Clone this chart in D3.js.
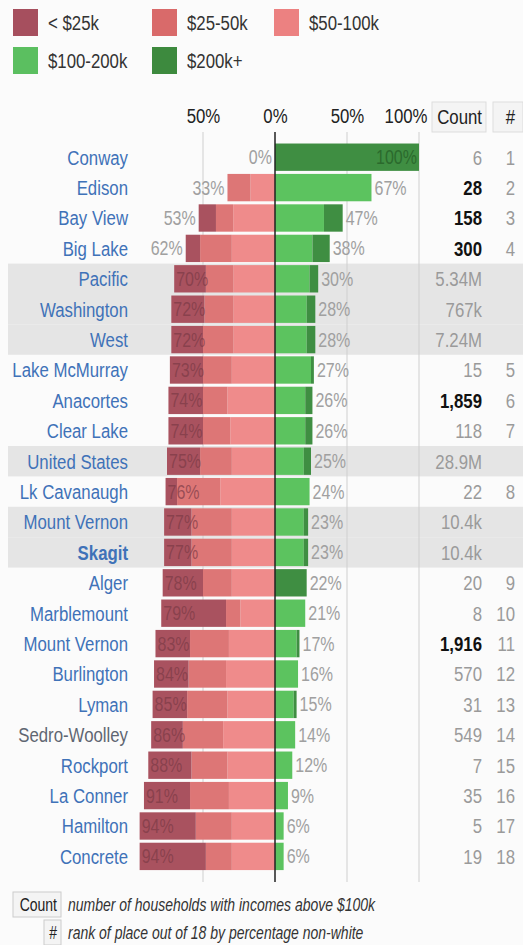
<!DOCTYPE html>
<html>
<head>
<meta charset="utf-8">
<script src="https://cdn.jsdelivr.net/npm/d3@7"></script>
<style>
  body { margin: 0; background: #fbfbfb; }
  svg { display: block; font-family: "Liberation Sans", Arial, sans-serif; }
</style>
</head>
<body>
<svg id="chart" width="523" height="945"></svg>
<script>
// places, top to bottom (two different "Mount Vernon" rows, so rows are keyed by index)
var places = ["Conway","Edison","Bay View","Big Lake","Pacific","Washington","West",
    "Lake McMurray","Anacortes","Clear Lake","United States","Lk Cavanaugh","Mount Vernon",
    "Skagit","Alger","Marblemount","Mount Vernon","Burlington","Lyman","Sedro-Woolley",
    "Rockport","La Conner","Hamilton","Concrete"];
// share of households by income bracket, percent
var under25  = [0, 0,12,10,22,23,22,23,24,24,23, 8,19,19,28,45,24,24,24,22,30,32,39,46];
var k25_50   = [0,16,12,22,19,20,21,20,17,19,22,30,28,28,20,10,27,26,28,28,25,27,25,18];
var k50_100  = [0,17,29,30,29,29,29,30,33,31,30,38,30,30,30,24,32,34,33,36,33,32,30,30];
var k100_200 = [0,67,34,26,24,22,22,25,21,21,20,24,20,20, 0,21,15,16,13,14,12, 9, 6, 6];
var k200plus = [100,0,13,12,6, 6, 6, 2, 5, 5, 5, 0, 3, 3,22, 0, 2, 0, 2, 0, 0, 0, 0, 0];
// households above $100k and rank by percentage non-white
var counts = [6,28,158,300,5340000,767000,7240000,15,1859,118,28900000,22,10400,10400,
    20,8,1916,570,31,549,7,35,5,19];
var boldCount = [0,1,1,1,0,0,0,0,1,0,0,0,0,0,0,0,1,0,0,0,0,0,0,0];
var ranks = [1,2,3,4,null,null,null,5,6,7,null,8,null,null,9,10,11,12,13,14,15,16,17,18];
// rows that are regions rather than places (shaded)
var isRegion = [0,0,0,0,1,1,1,0,0,0,1,0,1,1,0,0,0,0,0,0,0,0,0,0];
var highlight = "Skagit";
var axisTicks = [-0.5, 0, 0.5, 1];

var brackets = ["< $25k","$25-50k","$50-100k","$100-200k","$200k+"];
var legendColors = ["#a64f5e","#d96a6a","#ec8181","#5bbf60","#3d8a3e"];
var barColors = ["#a9525f","#dd7676","#ef8b8b","#5cc35f","#3f8e42"];

var svg = d3.select("#chart");
var x0 = 275, w100 = 144;
var SQ = 0.8;   // squeeze text horizontally, like a narrow face
var FS = 21;
function at(x, y) { return "translate(" + x + "," + y + ") scale(" + SQ + ",1)"; }

var sx = d3.scaleLinear().domain([-1, 1]).range([x0 - w100, x0 + w100]);
var sy = d3.scaleBand().domain(d3.range(places.length))
    .range([142, 142 + places.length * 30.4]).paddingInner(0.1).paddingOuter(0.05);

// legend
var leg = svg.append("g").selectAll("g")
    .data(brackets).enter().append("g")
    .attr("transform", (d, i) => "translate(" + [13, 152, 274][i % 3] + "," + (i < 3 ? 9 : 47) + ")");
leg.append("rect").attr("width", 25).attr("height", 27).attr("fill", (d, i) => legendColors[i]);
leg.append("text").attr("transform", at(35, 14)).attr("dy", "0.35em")
    .attr("font-size", FS).attr("fill", "#333").text(d => d);

// shaded region rows
svg.append("g").selectAll("rect")
    .data(d3.range(places.length).filter(i => isRegion[i])).enter().append("rect")
    .attr("x", 8).attr("width", 515)
    .attr("y", i => sy(i) - sy.step() * 0.05).attr("height", sy.step())
    .attr("fill", "#e5e5e5");

// gridlines
svg.append("g").selectAll("line")
    .data([-0.5, 0.5, 1]).enter().append("line")
    .attr("x1", d => sx(d)).attr("x2", d => sx(d))
    .attr("y1", 132).attr("y2", 882)
    .attr("stroke", "#cfcfcf").attr("stroke-width", 1);

// top axis
var ax = svg.append("g").attr("transform", "translate(0,126)")
    .call(d3.axisTop(sx).tickValues(axisTicks).tickSize(0)
        .tickFormat(d => Math.round(Math.abs(d) * 100) + "%"));
ax.select(".domain").remove();
ax.selectAll("text").attr("font-size", FS).attr("fill", "#222")
    .attr("font-family", null).attr("dy", 0).attr("transform", "scale(" + SQ + ",1)");
ax.selectAll(".tick").filter(d => d === 1).select("text")
    .attr("text-anchor", "end").attr("x", 10);

// column headers
var hdr = svg.append("g");
hdr.append("rect").attr("x", 432).attr("y", 102).attr("width", 54).attr("height", 30)
    .attr("fill", "#f4f4f4").attr("stroke", "#ddd");
hdr.append("rect").attr("x", 493).attr("y", 102).attr("width", 30).attr("height", 30)
    .attr("fill", "#f4f4f4").attr("stroke", "#ddd");
hdr.append("text").attr("transform", at(482, 124)).attr("text-anchor", "end")
    .attr("font-size", FS).attr("fill", "#222").text("Count");
hdr.append("text").attr("transform", at(515, 124)).attr("text-anchor", "end")
    .attr("font-size", FS).attr("fill", "#222").text("#");

// stacked bars
var rows = svg.append("g").selectAll("g")
    .data(d3.range(places.length)).enter().append("g")
    .attr("transform", i => "translate(0," + sy(i) + ")");
var bh = sy.bandwidth();

rows.each(function(i) {
    var g = d3.select(this);
    var left = [k50_100[i], k25_50[i], under25[i]];   // from zero outward
    var leftColors = [barColors[2], barColors[1], barColors[0]];
    var acc = 0;
    left.forEach(function(v, j) {
        if (v <= 0) return;
        g.append("rect").attr("x", sx(-(acc + v) / 100)).attr("width", sx(0) - sx(-v / 100))
            .attr("y", 0).attr("height", bh).attr("fill", leftColors[j]);
        acc += v;
    });
    var right = [k100_200[i], k200plus[i]];
    acc = 0;
    right.forEach(function(v, j) {
        if (v <= 0) return;
        g.append("rect").attr("x", sx(acc / 100)).attr("width", sx(v / 100) - sx(0))
            .attr("y", 0).attr("height", bh).attr("fill", barColors[3 + j]);
        acc += v;
    });
});

var leftTot = i => under25[i] + k25_50[i] + k50_100[i];
var rightTot = i => k100_200[i] + k200plus[i];

// percentage labels
rows.append("text")
    .attr("transform", i => at(leftTot(i) >= 65 ? sx(-leftTot(i) / 100) + 2 : sx(-leftTot(i) / 100) - 3, bh / 2))
    .attr("text-anchor", i => leftTot(i) >= 65 ? "start" : "end")
    .attr("dy", "0.35em").attr("font-size", FS - 1)
    .attr("fill", i => leftTot(i) >= 65 ? "#7b3a46" : "#a0a0a0")
    .attr("fill-opacity", i => leftTot(i) >= 65 ? 0.7 : 1)
    .text(i => leftTot(i) + "%");

rows.append("text")
    .attr("transform", i => at(rightTot(i) >= 90 ? sx(rightTot(i) / 100) - 2 : sx(rightTot(i) / 100) + 3, bh / 2))
    .attr("text-anchor", i => rightTot(i) >= 90 ? "end" : "start")
    .attr("dy", "0.35em").attr("font-size", FS - 1)
    .attr("fill", i => rightTot(i) >= 90 ? "#2b6a2d" : "#a0a0a0")
    .text(i => rightTot(i) + "%");

// zero line
svg.append("line").attr("x1", sx(0)).attr("x2", sx(0)).attr("y1", 132).attr("y2", 882)
    .attr("stroke", "#222").attr("stroke-width", 1.5);

// place names
rows.append("text").attr("transform", at(128, bh / 2)).attr("dy", "0.35em")
    .attr("text-anchor", "end").attr("font-size", FS)
    .attr("fill", i => places[i] === "Sedro-Woolley" ? "#5f6672" : "#3f72b8")
    .attr("font-weight", i => places[i] === highlight ? "bold" : null)
    .text(i => places[i]);

// count and rank columns
var fmtBig = d3.format(".3s"), fmtSmall = d3.format(",");
rows.append("text").attr("transform", at(482, bh / 2)).attr("dy", "0.35em")
    .attr("text-anchor", "end").attr("font-size", FS)
    .attr("fill", i => boldCount[i] ? "#111" : "#9a9a9a")
    .attr("font-weight", i => boldCount[i] ? "bold" : null)
    .text(i => counts[i] >= 10000 ? fmtBig(counts[i]) : fmtSmall(counts[i]));
rows.append("text").attr("transform", at(515, bh / 2)).attr("dy", "0.35em")
    .attr("text-anchor", "end").attr("font-size", FS).attr("fill", "#9a9a9a")
    .text(i => ranks[i] == null ? "" : ranks[i]);

// footnotes
var notes = [["Count", "number of households with incomes above $100k", 13, 892],
             ["#", "rank of place out of 18 by percentage non-white", 44, 920]];
var fn = svg.append("g").selectAll("g").data(notes).enter().append("g");
fn.append("rect").attr("x", d => d[2]).attr("y", d => d[3])
    .attr("width", d => 61 - d[2]).attr("height", 25)
    .attr("fill", "#f4f4f4").attr("stroke", "#ccc");
fn.append("text").attr("transform", d => at(57, d[3] + 12.5)).attr("dy", "0.35em")
    .attr("text-anchor", "end").attr("font-size", 17.5).attr("fill", "#222").text(d => d[0]);
fn.append("text").attr("transform", d => at(68, d[3] + 12.5)).attr("dy", "0.35em")
    .attr("font-size", 17.5).attr("font-style", "italic").attr("fill", "#333").text(d => d[1]);
</script>
</body>
</html>
